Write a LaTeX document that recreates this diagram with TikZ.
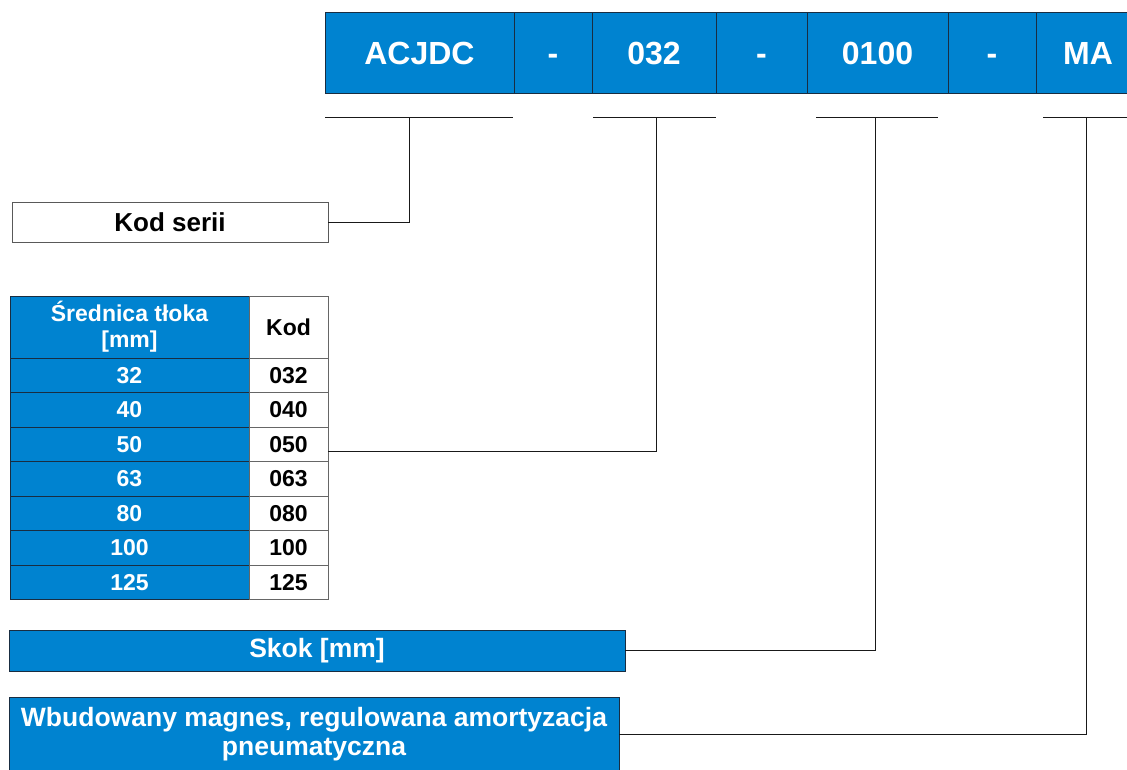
\documentclass[tikz,border=0pt]{standalone}
\usepackage{fontspec}
\setmainfont{Liberation Sans}
\definecolor{cblue}{RGB}{0,131,208}
\definecolor{cedge}{RGB}{25,45,65}
\begin{document}
\begin{tikzpicture}[x=1pt,y=-1pt,
  bar/.style={rectangle,draw=cedge,line width=0.9pt,fill=cblue,text=white,inner sep=0pt,outer sep=0pt,minimum height=81pt,text height=23.6pt,text depth=0pt,font=\fontsize{32}{36}\selectfont\bfseries},
  bcell/.style={rectangle,draw=cedge,line width=0.9pt,fill=cblue,text=white,inner sep=0pt,outer sep=0pt,font=\fontsize{23}{27}\selectfont\bfseries,align=center},
  wcell/.style={rectangle,draw=black!60,line width=0.9pt,fill=white,text=black,inner sep=0pt,outer sep=0pt,font=\fontsize{23}{27}\selectfont\bfseries,align=center},
  lbl/.style={rectangle,inner sep=0pt,outer sep=0pt,font=\fontsize{26.5}{30}\selectfont\bfseries,align=center},
  conn/.style={draw=black!90,line width=0.9pt}]
\clip (0,0) rectangle (1127,770);
\fill[white] (0,0) rectangle (1127,770);
% top bar
\node[bar,minimum width=189pt] (t1) at (419.5,52.5) {ACJDC};
\node[bar,minimum width=78pt]  (t2) at (553,52.5) {-};
\node[bar,minimum width=124pt] (t3) at (654,52.5) {032};
\node[bar,minimum width=91pt]  (t4) at (761.5,52.5) {-};
\node[bar,minimum width=141pt] (t5) at (877.5,52.5) {0100};
\node[bar,minimum width=88pt]  (t6) at (992,52.5) {-};
\node[bar,minimum width=104pt] (t7) at (1088,52.5) {MA};
% brackets
\coordinate (u1a) at (325,117); \coordinate (u1b) at (513,117); \coordinate (v1) at (409,117);
\coordinate (u2a) at (593,117); \coordinate (u2b) at (716,117); \coordinate (v2) at (656,117);
\coordinate (u3a) at (816,117); \coordinate (u3b) at (938,117); \coordinate (v3) at (875,117);
\coordinate (u4a) at (1043,117); \coordinate (u4b) at (1130,117); \coordinate (v4) at (1086,117);
\draw[conn] (u1a) -- (u1b);
\draw[conn] (u2a) -- (u2b);
\draw[conn] (u3a) -- (u3b);
\draw[conn] (u4a) -- (u4b);
% Kod serii
\node[wcell,draw=black!65,minimum width=316pt,minimum height=40pt,font=\fontsize{26}{30}\selectfont\bfseries] (ks) at (170,222) {Kod serii};
\draw[conn] (ks.east) -| (v1);
% table
\node[bcell,minimum width=239pt,minimum height=62pt] (h1) at (129.5,327) {Średnica tłoka\\[-1pt][mm]};
\node[wcell,minimum width=79pt,minimum height=62pt] (h2) at (288.5,327) {Kod};
\foreach \v/\k [count=\i from 0] in {32/032,40/040,50/050,63/063,80/080,100/100,125/125}{
  \node[bcell,minimum width=239pt,minimum height=34.5pt] (d\k) at (129.5,375.25+34.5*\i) {\v};
  \node[wcell,minimum width=79pt,minimum height=34.5pt] (k\k) at (288.5,375.25+34.5*\i) {\k};
}
\draw[conn] ([yshift=-7pt]k050.east) -| (v2);
% Skok
\node[bcell,lbl,minimum width=616pt,minimum height=41pt] (sk) at (317,650.5) {Skok [mm]};
\draw[conn] (sk.east) -| (v3);
% Wbudowany
\node[bcell,lbl,minimum width=610pt,minimum height=75pt] (wb) at (314,734.5) {Wbudowany magnes, regulowana amortyzacja\\[-1pt]pneumatyczna};
\draw[conn] (wb.east) -| (v4);
\end{tikzpicture}
\end{document}
